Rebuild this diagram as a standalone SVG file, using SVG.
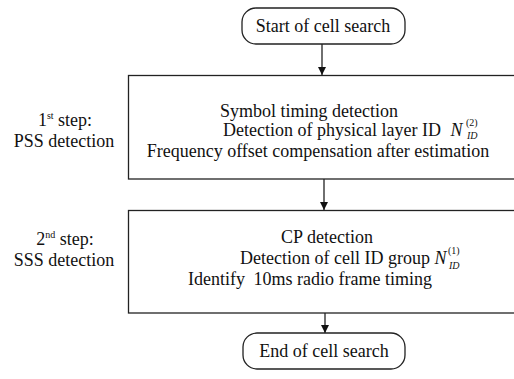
<svg xmlns="http://www.w3.org/2000/svg" width="514" height="379" viewBox="0 0 514 379">
<defs>
<style>
.t{font-family:"Liberation Serif","Times New Roman",serif;font-size:18px;fill:#111}
.m{text-anchor:middle}
.b{fill:#fff;stroke:#222;stroke-width:1.3}
.c{stroke:#222;stroke-width:1.3;fill:none}
.i{font-style:italic}
.s{font-size:10px}
</style>
<marker id="ah" viewBox="0 0 10 10" refX="10" refY="5" markerWidth="8" markerHeight="8" markerUnits="userSpaceOnUse" orient="auto">
<path d="M0,0L10,5L0,10z" fill="#111"/>
</marker>
</defs>
<rect width="514" height="379" fill="#fff"/>
<g id="connectors">
<line class="c" x1="322" y1="44" x2="322" y2="75" marker-end="url(#ah)"/>
<line class="c" x1="324" y1="179" x2="324" y2="210" marker-end="url(#ah)"/>
<line class="c" x1="325" y1="313" x2="325" y2="333" marker-end="url(#ah)"/>
</g>
<g id="start">
<rect class="b" x="242" y="8" width="163" height="36" rx="14"/>
<text class="t m" x="323" y="32">Start of cell search</text>
</g>
<g id="label1">
<text class="t m" x="65" y="126">1<tspan class="s" dy="-7">st</tspan><tspan dy="7"> step:</tspan></text>
<text class="t m" x="64" y="147">PSS detection</text>
</g>
<g id="step1">
<rect class="b" x="128.5" y="75.5" width="400" height="103.5"/>
<text class="t m" x="309" y="117">Symbol timing detection</text>
<text class="t" x="223" y="136">Detection of physical layer ID <tspan class="i" dx="5">N</tspan></text>
<text class="t i s" x="467" y="139">ID</text>
<text class="t s" x="466" y="126">(2)</text>
<text class="t m" x="318" y="157">Frequency offset compensation after estimation</text>
</g>
<g id="label2">
<text class="t m" x="65" y="245">2<tspan class="s" dy="-7">nd</tspan><tspan dy="7"> step:</tspan></text>
<text class="t m" x="64" y="266">SSS detection</text>
</g>
<g id="step2">
<rect class="b" x="128.5" y="210.5" width="400" height="102.5"/>
<text class="t m" x="327" y="243">CP detection</text>
<text class="t" x="240" y="264">Detection of cell ID group <tspan class="i">N</tspan></text>
<text class="t i s" x="449" y="269">ID</text>
<text class="t s" x="448" y="254">(1)</text>
<text class="t m" x="310" y="285">Identify <tspan dx="4">10ms radio frame timing</tspan></text>
</g>
<g id="end">
<rect class="b" x="243" y="333" width="162" height="36" rx="14"/>
<text class="t m" x="324" y="357">End of cell search</text>
</g>
</svg>
